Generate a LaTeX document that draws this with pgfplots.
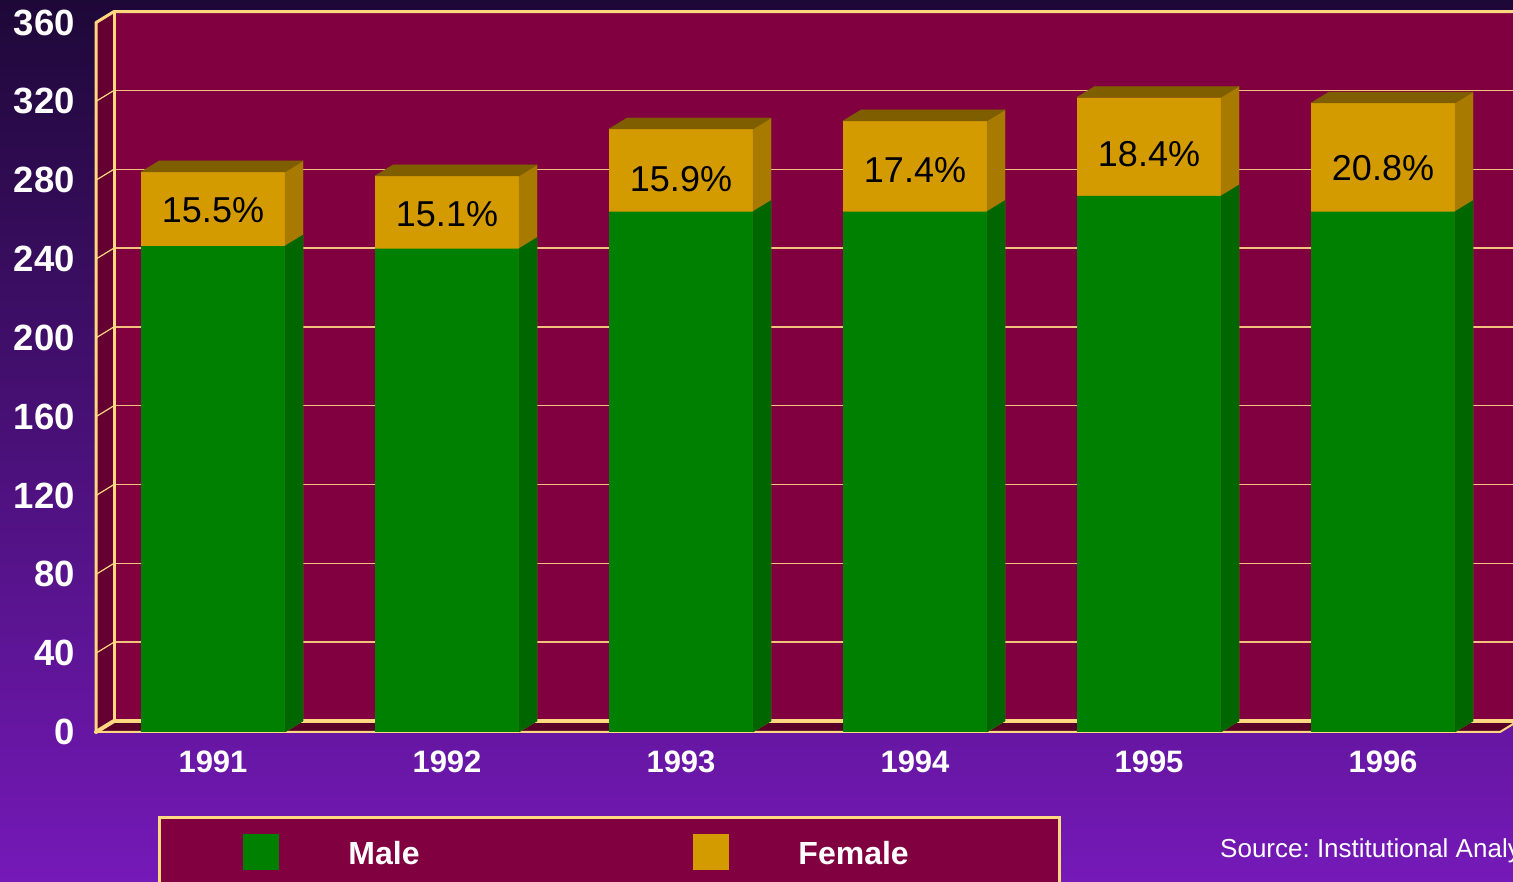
\documentclass[border=0pt]{standalone}
\usepackage{fontspec}
\setmainfont{Liberation Sans}
\usepackage{pgfplots}
\pgfplotsset{compat=1.18}
\usepackage{pgfplotstable}

\definecolor{bgtop}{HTML}{1E0838}
\definecolor{bgmid}{HTML}{4A1284}
\definecolor{bgbot}{HTML}{7519B8}
\definecolor{wallback}{HTML}{800040}
\definecolor{wallleft}{HTML}{640032}
\definecolor{floorc}{HTML}{580028}
\definecolor{edgey}{HTML}{FFD880}
\definecolor{gridc}{HTML}{F2C27E}
\definecolor{malec}{HTML}{008000}
\definecolor{maleside}{HTML}{006600}
\definecolor{femc}{HTML}{D49B00}
\definecolor{femside}{HTML}{A87A00}
\definecolor{femtop}{HTML}{7F5E00}

\pgfdeclareplotmark{none3d}{}

% male = green segment, total = top of the stacked bar (male + female)
% ly = height of the percentage label, pct = female as % of male
\pgfplotstableread{
x base male total ly pct
0 0 246.6 284.2 265.0 15.5
1 0 245.3 282.2 262.9 15.1
2 0 264.1 306.0 280.4 15.9
3 0 264.1 310.1 285.0 17.4
4 0 272.0 322.1 293.3 18.4
5 0 264.1 319.2 286.3 20.8
}\enroll

\begin{document}
\frenchspacing
\begin{tikzpicture}
\useasboundingbox (0pt,0pt) rectangle (1513pt,882pt);
\begin{scope}
\clip (0pt,0pt) rectangle (1513pt,882pt);
\shade[top color=bgtop, middle color=bgmid, bottom color=bgbot] (0pt,0pt) rectangle (1513pt,882pt);
\begin{axis}[
  at={(96pt,150pt)}, anchor=south west,
  x=234pt, y=1.9706pt,
  xmin=-0.5, xmax=5.5, ymin=0, ymax=360,
  clip=false,
  axis line style={draw=none},
  tick style={draw=none},
  major tick length=0pt,
  ytick={0,40,...,360},
  xtick={0,...,5},
  xticklabels={1991,1992,1993,1994,1995,1996},
  /pgf/number format/assume math mode=true,
  yticklabel style={font=\bfseries\fontsize{36.5}{40}\selectfont, text=white, inner sep=0pt, xshift=-21pt, anchor=east},
  xticklabel style={font=\bfseries\fontsize{31}{36}\selectfont, text=white, inner sep=0pt, yshift=-19pt, anchor=north},
  legend columns=2, reverse legend, legend cell align=left,
  legend style={at={(0.04416,-0.11841)}, anchor=north west,
    fill=wallback, draw=edgey, line width=3pt,
    inner xsep=0pt, inner ysep=16.5pt,
    font=\bfseries\fontsize{32}{36}\selectfont, text=white,
    nodes={inner sep=0pt}, column sep=0pt},
]
% walls and floor
\fill[wallback] ([shift={(18pt,11pt)}]axis cs:-0.5,0) rectangle ([shift={(18pt,11pt)}]axis cs:5.5,360);
\fill[wallleft] (axis cs:-0.5,0) -- (axis cs:-0.5,360) -- ([shift={(18pt,11pt)}]axis cs:-0.5,360) -- ([shift={(18pt,11pt)}]axis cs:-0.5,0) -- cycle;
\fill[floorc] (axis cs:-0.5,0) -- (axis cs:5.5,0) -- ([shift={(18pt,11pt)}]axis cs:5.5,0) -- ([shift={(18pt,11pt)}]axis cs:-0.5,0) -- cycle;
\pgfplotsinvokeforeach{40,80,120,160,200,240,280,320}{
  \draw[gridc, line width=1.4pt] ([shift={(18pt,11pt)}]axis cs:-0.5,#1) -- ([shift={(18pt,11pt)}]axis cs:5.5,#1);
  \draw[edgey, line width=1.2pt] (axis cs:-0.5,#1) -- ([shift={(18pt,11pt)}]axis cs:-0.5,#1);
}
\draw[edgey, line width=3pt, line join=round] (axis cs:-0.5,0) -- (axis cs:-0.5,360) -- ([shift={(18pt,11pt)}]axis cs:-0.5,360) -- ([shift={(18pt,11pt)}]axis cs:5.5,360);
\draw[edgey, line width=3pt] ([shift={(18pt,11pt)}]axis cs:-0.5,360) -- ([shift={(18pt,11pt)}]axis cs:-0.5,0);
\draw[edgey, line width=4pt] ([shift={(18pt,11pt)}]axis cs:-0.5,0) -- ([shift={(18pt,11pt)}]axis cs:5.5,0);
\draw[edgey, line width=4pt, line cap=round] ([shift={(18pt,11pt)}]axis cs:-0.5,0) -- (axis cs:-0.5,0);
\draw[edgey, line width=2pt, line join=round] (axis cs:-0.5,0) -- (axis cs:5.5,0) -- ([shift={(18pt,11pt)}]axis cs:5.5,0);

% 3D side and top faces of the stacked bars (meta = height of the prism)
\addplot[forget plot, scatter, only marks, mark=none3d, point meta=explicit symbolic,
  scatter/@pre marker code/.code={%
    \pgfmathsetmacro\Ht{\pgfplotspointmeta*1.9706}%
    \fill[femside] (72pt,0pt) -- (90pt,11pt) -- (90pt,\Ht pt+11pt) -- (72pt,\Ht pt) -- cycle;
    \fill[femtop] (-72pt,\Ht pt) -- (72pt,\Ht pt) -- (90pt,\Ht pt+11pt) -- (-54pt,\Ht pt+11pt) -- cycle;
  },
  scatter/@post marker code/.code={},
] table[x=x, y=base, meta=total] \enroll;
\addplot[forget plot, scatter, only marks, mark=none3d, point meta=explicit symbolic,
  scatter/@pre marker code/.code={%
    \pgfmathsetmacro\Hm{\pgfplotspointmeta*1.9706}%
    \fill[maleside] (72pt,0pt) -- (90pt,11pt) -- (90pt,\Hm pt+11pt) -- (72pt,\Hm pt) -- cycle;
  },
  scatter/@post marker code/.code={},
] table[x=x, y=base, meta=male] \enroll;

% front faces
\addplot[ybar, bar width=144pt, bar shift=0pt, fill=femc, draw=none,
  legend image code/.code={\path[draw=none, fill=none] (-83pt,0pt) rectangle (106pt,1pt); \fill[femc] (0pt,-5.5pt) rectangle (36pt,30.5pt);}]
  table[x=x, y=total] \enroll;
\addlegendentry{\raisebox{-0.5pt}[0pt][0pt]{\makebox[261pt][l]{Female}}}
\addplot[ybar, bar width=144pt, bar shift=0pt, fill=malec, draw=none,
  legend image code/.code={\path[draw=none, fill=none] (-83pt,0pt) rectangle (106pt,1pt); \fill[malec] (0pt,-5.5pt) rectangle (36pt,30.5pt);}]
  table[x=x, y=male] \enroll;
\addlegendentry{\raisebox{-0.5pt}[0pt][0pt]{\makebox[261pt][l]{Male}}}

% percentage labels
\addplot[forget plot, only marks, mark=none3d, point meta=explicit symbolic,
  nodes near coords={\pgfplotspointmeta\%}, nodes near coords align={center},
  every node near coord/.append style={anchor=center, inner sep=0pt, text=black, font=\fontsize{36}{40}\selectfont}]
  table[x=x, y=ly, meta=pct] \enroll;
\end{axis}
\node[anchor=base west, inner sep=0pt, text=white, font=\fontsize{26}{30}\selectfont] at (1220pt,24pt) {Source: Institutional Analysis};
\end{scope}
\end{tikzpicture}
\end{document}
